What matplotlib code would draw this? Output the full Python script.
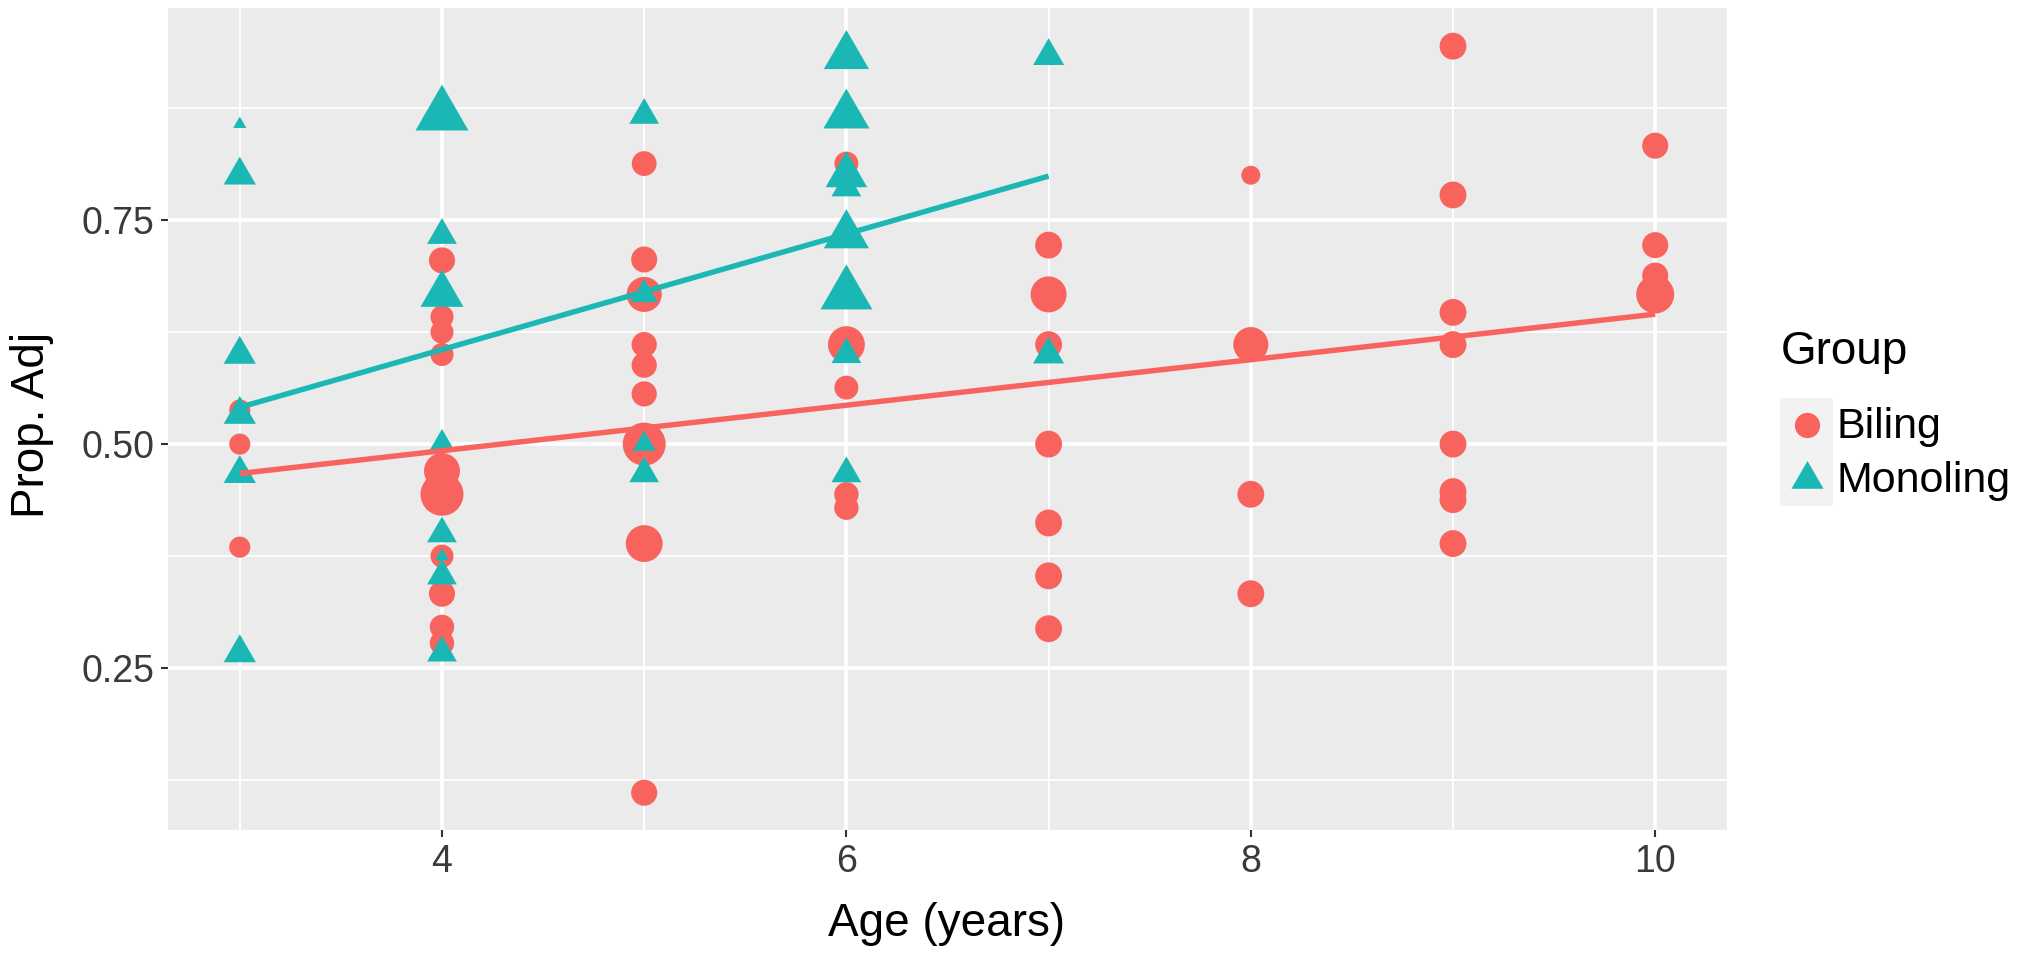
import matplotlib
matplotlib.use("Agg")
import matplotlib.pyplot as plt
from matplotlib.patches import Rectangle
import numpy as np

plt.rcParams['font.family'] = ['Liberation Sans', 'DejaVu Sans']

# Biling group: age, proportion of adjectives, size value of each point
biling_age = [3, 3, 3,
              4, 4, 4, 4, 4, 4, 4, 4, 4, 4,
              5, 5, 5, 5, 5, 5, 5, 5, 5,
              6, 6, 6, 6, 6,
              7, 7, 7, 7, 7, 7, 7,
              8, 8, 8, 8,
              9, 9, 9, 9, 9, 9, 9, 9,
              10, 10, 10, 10]
biling_prop = [0.538, 0.500, 0.385,
               0.705, 0.642, 0.625, 0.600, 0.470, 0.444, 0.375, 0.333, 0.296, 0.278,
               0.813, 0.706, 0.667, 0.611, 0.588, 0.556, 0.500, 0.389, 0.111,
               0.813, 0.611, 0.563, 0.444, 0.429,
               0.722, 0.667, 0.611, 0.500, 0.412, 0.353, 0.294,
               0.800, 0.611, 0.444, 0.333,
               0.944, 0.778, 0.647, 0.611, 0.500, 0.447, 0.438, 0.389,
               0.833, 0.722, 0.688, 0.667]
biling_n = [2.1, 2.1, 2.1,
            3.2, 2.5, 2.5, 2.5, 6.1, 8.7, 2.5, 3.2, 2.8, 2.8,
            2.9, 3.2, 5.8, 3.0, 3.0, 3.0, 8.7, 6.4, 3.2,
            2.7, 6.4, 2.7, 2.8, 2.8,
            3.4, 6.1, 3.4, 3.4, 3.4, 3.4, 3.4,
            1.7, 5.8, 3.4, 3.4,
            3.4, 3.4, 3.4, 3.4, 3.4, 3.4, 3.4, 3.4,
            3.2, 3.2, 3.2, 6.8]

# Monoling group
monoling_age = [3, 3, 3, 3, 3, 3,
                4, 4, 4, 4, 4, 4, 4, 4,
                5, 5, 5, 5,
                6, 6, 6, 6, 6, 6, 6, 6,
                7, 7]
monoling_prop = [0.857, 0.800, 0.600, 0.533, 0.467, 0.267,
                 0.867, 0.733, 0.667, 0.500, 0.400, 0.375, 0.353, 0.267,
                 0.867, 0.667, 0.500, 0.467,
                 0.933, 0.867, 0.800, 0.786, 0.733, 0.667, 0.600, 0.467,
                 0.933, 0.600]
monoling_n = [0.45, 2.7, 2.7, 2.7, 2.7, 2.7,
              7.3, 2.3, 4.8, 1.8, 2.3, 0.5, 2.3, 2.3,
              2.3, 1.9, 1.4, 2.3,
              5.3, 5.5, 4.5, 2.3, 5.3, 7.0, 2.3, 2.3,
              2.5, 2.5]

# linear fits (intercept, slope)
biling_fit = [0.391, 0.0254]
monoling_fit = [0.3475, 0.0645]

groups = ["Biling", "Monoling"]
x_ticks = [4, 6, 8, 10]
y_ticks = [0.25, 0.50, 0.75]
y_tick_labels = ["0.25", "0.50", "0.75"]

RED = "#F8635E"
TEAL = "#1AB7B4"
TRI = [(-1, -0.577), (1, -0.577), (0, 1.155)]  # equilateral triangle

W, H = 2025, 959


def circle_area(n):
    return 110 * np.asarray(n)


def triangle_area(n):
    # same area as the circle, like ggplot shape 17
    return 2.42 * 110 * np.asarray(n)


def fit_line(ax, ages, coef, color):
    xs = np.array([min(ages), max(ages)])
    ax.plot(xs, coef[0] + coef[1] * xs, color=color, lw=3.9,
            solid_capstyle='butt', zorder=4)


fig = plt.figure(figsize=(W / 100, H / 100), dpi=100)
ax = fig.add_axes([168 / W, 1 - 830 / H, (1727 - 168) / W, (830 - 8) / H])
ax.set_facecolor("#EBEBEB")
for s in ax.spines.values():
    s.set_visible(False)

ax.scatter(biling_age, biling_prop, s=circle_area(biling_n), color=RED,
           marker='o', linewidths=0, zorder=2)
ax.scatter(monoling_age, monoling_prop, s=triangle_area(monoling_n), color=TEAL,
           marker=TRI, linewidths=0, zorder=3)

fit_line(ax, biling_age, biling_fit, RED)
fit_line(ax, monoling_age, monoling_fit, TEAL)

ax.set_xlim(2.645, 10.355)
ax.set_ylim(0.0694, 0.9866)
ax.set_xticks(x_ticks)
ax.set_xticklabels([str(t) for t in x_ticks])
ax.set_xticks([3, 5, 7, 9], minor=True)
ax.set_yticks(y_ticks)
ax.set_yticklabels(y_tick_labels)
ax.set_yticks([0.125, 0.375, 0.625, 0.875], minor=True)
ax.tick_params(which='minor', length=0)
ax.tick_params(which='major', length=5, width=1.5, color='#333333',
               labelsize=27, labelcolor='#3A3A3A', pad=5)
ax.grid(which='major', color='white', lw=2.6)
ax.grid(which='minor', color='white', lw=1.3)
ax.set_axisbelow(True)

fig.text(947 / W, 1 - 924 / H, "Age (years)", fontsize=33, ha='center', va='center')
fig.text(32 / W, 1 - 425 / H, "Prop. Adj", fontsize=33, rotation=90,
         ha='center', va='center')

# legend drawn by hand, in pixel units
lg = fig.add_axes([1760 / W, 1 - 540 / H, 265 / W, 220 / H])
lg.set_xlim(1760, 2025)
lg.set_ylim(540, 320)
lg.axis('off')
lg.text(1781, 352, "Group", fontsize=33, ha='left', va='center')
key_y = [425, 479]
for i, g in enumerate(groups):
    lg.add_patch(Rectangle((1780, key_y[i] - 27), 53, 54, fc='#F2F2F2', ec='none'))
    lg.text(1837, key_y[i] + 2, g, fontsize=31, ha='left', va='center')
lg.scatter([1806.5], [key_y[0]], s=circle_area(3.0), color=RED, marker='o', linewidths=0)
lg.scatter([1806.5], [key_y[1]], s=triangle_area(2.67), color=TEAL, marker=TRI, linewidths=0)

fig.savefig("out.png", dpi=100)
